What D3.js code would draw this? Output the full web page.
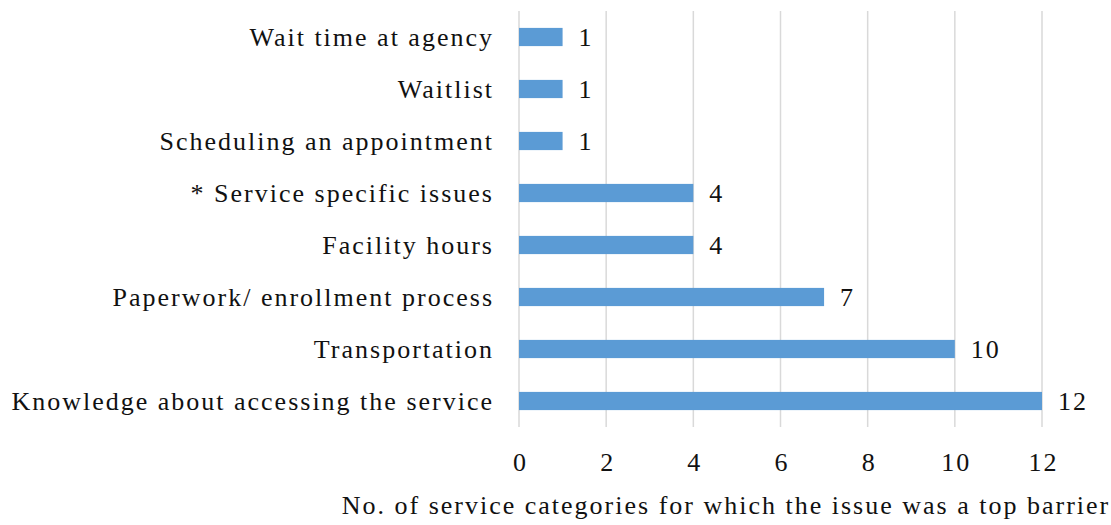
<!DOCTYPE html>
<html>
<head>
<meta charset="utf-8">
<script src="https://cdn.jsdelivr.net/npm/d3@7"></script>
<style>
  body { margin: 0; background: #fff; }
  text { font-family: "Liberation Serif", "Times New Roman", serif; fill: #111; letter-spacing: 2px; }
</style>
</head>
<body>
<svg id="chart" width="1111" height="525"></svg>
<script>
// categories, top to bottom
const categories = [
  'Wait time at agency',
  'Waitlist',
  'Scheduling an appointment',
  '* Service specific issues',
  'Facility hours',
  'Paperwork/ enrollment process',
  'Transportation',
  'Knowledge about accessing the service'
]
const values = [1, 1, 1, 4, 4, 7, 10, 12]
const xTicks = [0, 2, 4, 6, 8, 10, 12]
const axisTitle = 'No. of service categories for which the issue was a top barrier'

const svg = d3.select('#chart')
const plotLeft = 519, plotRight = 1042, plotTop = 11, plotBottom = 427

const x = d3.scaleLinear().domain([0, 12]).range([plotLeft, plotRight])
const y = d3.scaleBand().domain(categories).range([plotTop, plotBottom]).paddingInner(0.65).paddingOuter(0.325)

// gridlines
svg.append('g')
  .selectAll('line')
  .data(xTicks)
  .join('line')
  .attr('x1', d => x(d)).attr('x2', d => x(d))
  .attr('y1', plotTop).attr('y2', plotBottom)
  .attr('stroke', '#d9d9d9')
  .attr('stroke-width', 1.5)

// bars
svg.append('g')
  .selectAll('rect')
  .data(values)
  .join('rect')
  .attr('x', x(0))
  .attr('y', (d, i) => y(categories[i]))
  .attr('width', d => x(d) - x(0))
  .attr('height', y.bandwidth())
  .attr('fill', '#5b9bd5')

// value labels
svg.append('g')
  .selectAll('text')
  .data(values)
  .join('text')
  .attr('x', d => x(d) + 16)
  .attr('y', (d, i) => y(categories[i]) + y.bandwidth() / 2)
  .attr('dy', '0.35em')
  .style('font-size', '26px')
  .text(d => d)

// category labels
const yAxis = svg.append('g')
  .attr('transform', `translate(${plotLeft},0)`)
  .call(d3.axisLeft(y).tickSize(0).tickPadding(25))
yAxis.select('.domain').remove()
yAxis.selectAll('text')
  .style('font-size', '26px')
  .style('font-family', '"Liberation Serif", serif')
  .attr('fill', '#111')
  .attr('dy', '0.35em')

// x axis tick labels
const xAxis = svg.append('g')
  .attr('transform', `translate(1,${plotBottom})`)
  .call(d3.axisBottom(x).tickValues(xTicks).tickSize(0).tickPadding(26))
xAxis.select('.domain').remove()
xAxis.selectAll('text')
  .style('font-size', '26px')
  .style('font-family', '"Liberation Serif", serif')
  .attr('fill', '#111')

// axis title
svg.append('text')
  .attr('x', 726)
  .attr('y', 514)
  .attr('text-anchor', 'middle')
  .style('font-size', '26px')
  .text(axisTitle)
</script>
</body>
</html>
